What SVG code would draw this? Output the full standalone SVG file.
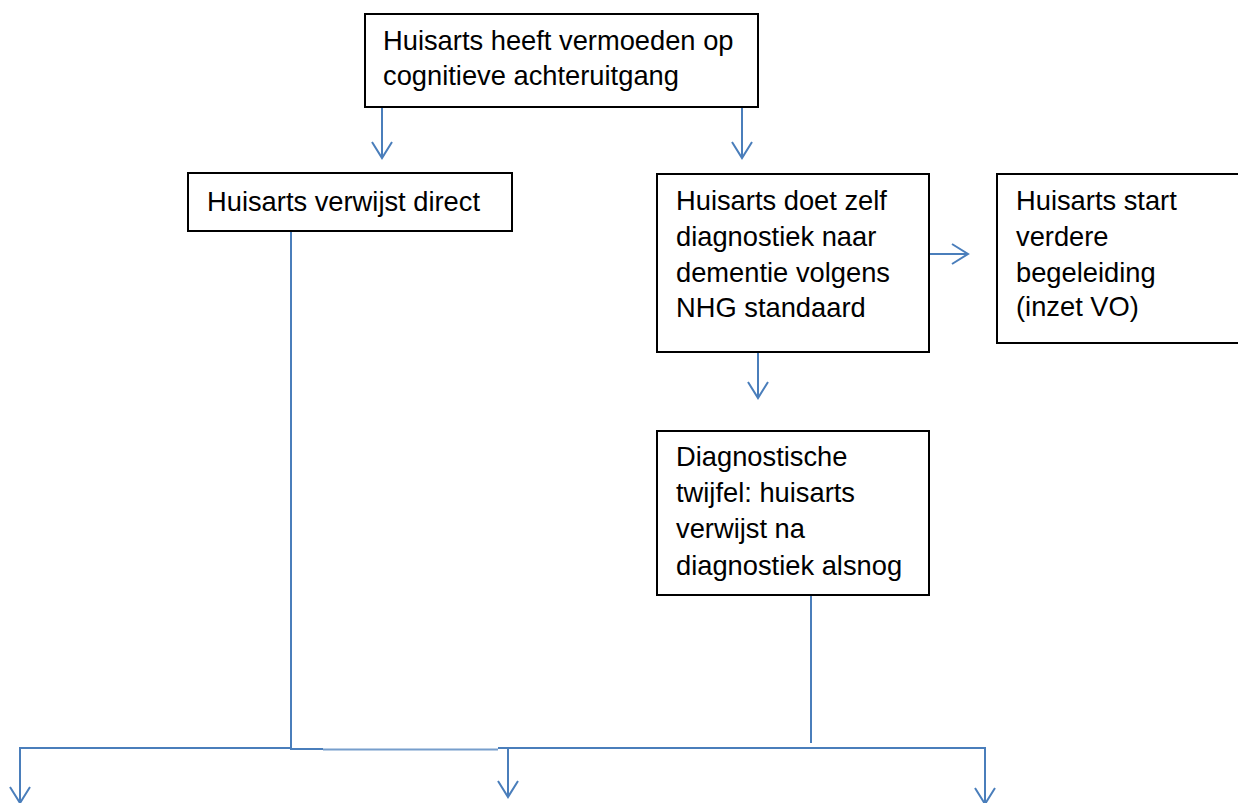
<svg xmlns="http://www.w3.org/2000/svg" width="1238" height="803" viewBox="0 0 1238 803">
<style>
.box{fill:#ffffff;stroke:#000000;stroke-width:2}
.t{font-family:"Liberation Sans",Arial,sans-serif;font-size:27.3px;fill:#000000}
.c{fill:none;stroke:#4a7ebb;stroke-width:2}
.c2{fill:none;stroke:#4a7ebb;stroke-width:2;stroke-opacity:0.75}
</style>
<rect width="1238" height="803" fill="#ffffff"/>
<g id="connectors">
<path class="c" d="M382 107V158M372 142L382 158L392 142"/>
<path class="c" d="M742 107V158M732 142L742 158L752 142"/>
<path class="c" d="M929 254H968M952 244L968 254L952 264"/>
<path class="c" d="M758 352V398M748 382L758 398L768 382"/>
<path class="c" d="M291 231V749H323"/>
<path class="c2" d="M323 749.5H498"/>
<path class="c" d="M291 748H20V803M10 787L20 803L30 787"/>
<path class="c" d="M498 748H985V804M975 788L985 804L995 788"/>
<path class="c" d="M508 748V797M498 781L508 797L518 781"/>
<path class="c" d="M811 595V743"/>
</g>
<g id="n1">
<rect class="box" x="365" y="14" width="393" height="93"/>
<text class="t" x="383" y="50">Huisarts heeft vermoeden op</text>
<text class="t" x="383" y="85">cognitieve achteruitgang</text>
</g>
<g id="n2">
<rect class="box" x="188" y="173" width="324" height="58"/>
<text class="t" x="207" y="211">Huisarts verwijst direct</text>
</g>
<g id="n3">
<rect class="box" x="657" y="174" width="272" height="178"/>
<text class="t" x="676" y="210">Huisarts doet zelf</text>
<text class="t" x="676" y="246">diagnostiek naar</text>
<text class="t" x="676" y="282">dementie volgens</text>
<text class="t" x="676" y="317">NHG standaard</text>
</g>
<g id="n4">
<rect class="box" x="997" y="174" width="250" height="169"/>
<text class="t" x="1016" y="210">Huisarts start</text>
<text class="t" x="1016" y="246">verdere</text>
<text class="t" x="1016" y="282">begeleiding</text>
<text class="t" x="1016" y="316">(inzet VO)</text>
</g>
<g id="n5">
<rect class="box" x="657" y="431" width="272" height="164"/>
<text class="t" x="676" y="466">Diagnostische</text>
<text class="t" x="676" y="502">twijfel: huisarts</text>
<text class="t" x="676" y="538">verwijst na</text>
<text class="t" x="676" y="575">diagnostiek alsnog</text>
</g>
</svg>
